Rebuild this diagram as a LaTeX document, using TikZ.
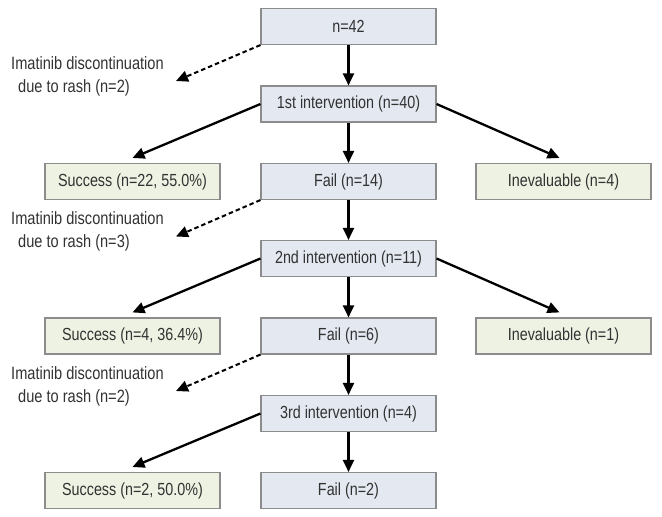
\documentclass[tikz,border=0pt]{standalone}
\usepackage{fontspec}
\setmainfont{Liberation Sans}[FakeStretch=0.82]
\usetikzlibrary{arrows.meta,calc}
\definecolor{bluefill}{RGB}{227,232,241}
\definecolor{greenfill}{RGB}{238,242,227}
\definecolor{boxline}{RGB}{140,140,140}
\definecolor{txt}{RGB}{50,50,50}
\begin{document}
\begin{tikzpicture}[x=1pt,y=1pt,
  basebox/.style={draw=boxline,line width=1.1pt,minimum width=175pt,minimum height=36pt,inner sep=0pt,text=txt,font=\fontsize{17.5}{20}\selectfont},
  bluebox/.style={basebox,fill=bluefill},
  greenbox/.style={basebox,fill=greenfill},
  arr/.style={line width=2.3pt,-{Triangle[length=12pt,width=11pt]}},
  darr/.style={line width=2pt,dash pattern=on 4.5pt off 3pt,-{Triangle[length=12pt,width=11pt]}},
  note/.style={anchor=north west,align=left,inner sep=0pt,text=txt,font=\fontsize{17.8}{23}\selectfont}
]
\useasboundingbox (0,0) rectangle (662,517);
% center column
\node[bluebox] (n42) at (348.5,490.5) {n=42};
\node[bluebox] (i1) at (348.5,413) {1st intervention (n=40)};
\node[bluebox] (f1) at (348.5,335.5) {Fail (n=14)};
\node[bluebox] (i2) at (348.5,258.5) {2nd intervention (n=11)};
\node[bluebox] (f2) at (348.5,181) {Fail (n=6)};
\node[bluebox] (i3) at (348.5,103.5) {3rd intervention (n=4)};
\node[bluebox] (f3) at (348.5,26.5) {Fail (n=2)};
% side columns
\node[greenbox] (s1) at (132.5,335.5) {Success (n=22, 55.0\%)};
\node[greenbox] (e1) at (563.5,335.5) {Inevaluable (n=4)};
\node[greenbox] (s2) at (132.5,181) {Success (n=4, 36.4\%)};
\node[greenbox] (e2) at (563.5,181) {Inevaluable (n=1)};
\node[greenbox] (s3) at (132.5,26.5) {Success (n=2, 50.0\%)};
% vertical arrows
\draw[arr] (n42.south) -- (i1.north);
\draw[arr] (i1.south) -- (f1.north);
\draw[arr] (f1.south) -- (i2.north);
\draw[arr] (i2.south) -- (f2.north);
\draw[arr] (f2.south) -- (i3.north);
\draw[arr] (i3.south) -- (f3.north);
% diagonal arrows
\draw[arr] (i1.west) -- ($(s1.north)+(0,5)$);
\draw[arr] (i1.east) -- ($(e1.north)+(-4,5)$);
\draw[arr] (i2.west) -- ($(s2.north)+(0,5)$);
\draw[arr] (i2.east) -- ($(e2.north)+(-4,5)$);
\draw[arr] (i3.west) -- ($(s3.north)+(0,5)$);
% dashed arrows and notes
\coordinate (t1) at (176,{517-44-37});
\coordinate (t2) at (176,{517-199.5-37});
\coordinate (t3) at (176,{517-354-37});
\draw[darr] (n42.south west) -- (t1);
\draw[darr] (f1.south west) -- (t2);
\draw[darr] (f2.south west) -- (t3);
\node[note] (d1) at (11,{517-44-12}) {Imatinib discontinuation\\\hspace*{7pt}due to rash (n=2)};
\node[note] (d2) at (11,{517-199.5-12}) {Imatinib discontinuation\\\hspace*{7pt}due to rash (n=3)};
\node[note] (d3) at (11,{517-354-12}) {Imatinib discontinuation\\\hspace*{7pt}due to rash (n=2)};
\end{tikzpicture}
\end{document}
